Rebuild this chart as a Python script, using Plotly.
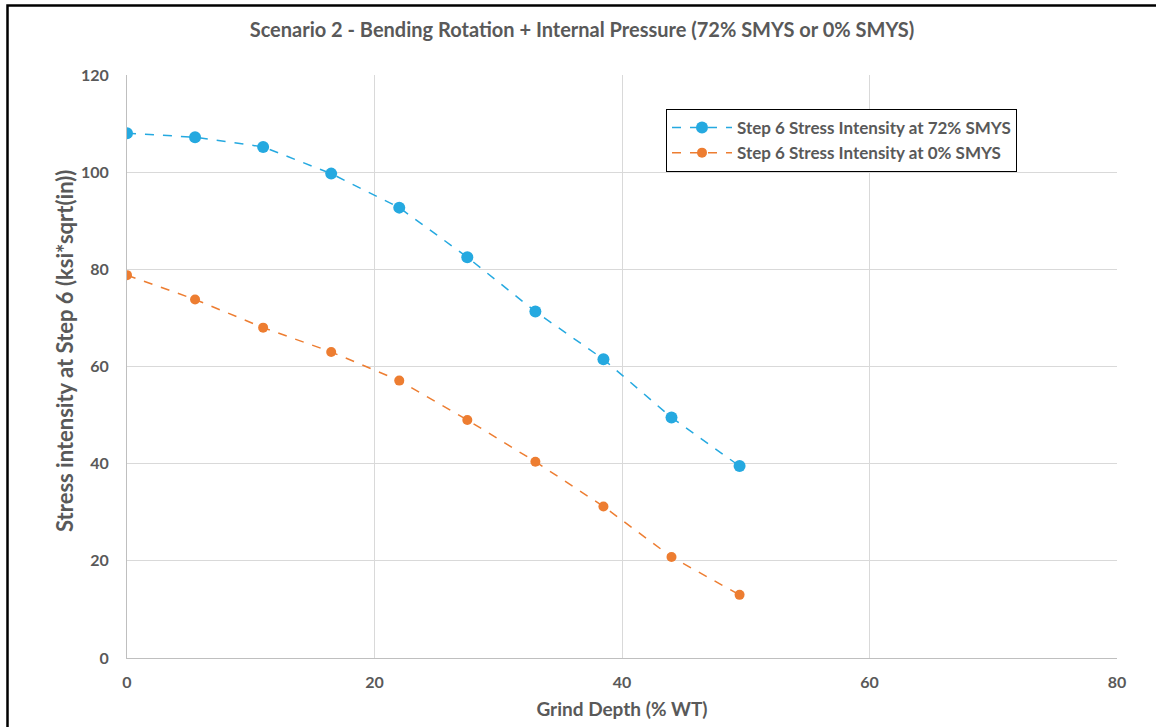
import plotly.graph_objects as go

grind_depth = [0, 5.5, 11, 16.5, 22, 27.5, 33, 38.5, 44, 49.5]
si_72 = [108.0, 107.2, 105.2, 99.7, 92.7, 82.5, 71.3, 61.5, 49.5, 39.5]
si_0 = [78.8, 73.8, 68.0, 63.0, 57.1, 49.0, 40.4, 31.2, 20.8, 13.0]
x_ticks = [0, 20, 40, 60, 80]
y_ticks = [0, 20, 40, 60, 80, 100, 120]

FONT = "Lato"
GRAY = "#595959"

fig = go.Figure()
fig.add_trace(go.Scatter(
    x=grind_depth, y=si_72, mode="lines+markers",
    name="<b>Step 6 Stress Intensity at 72% SMYS</b>",
    line=dict(color="#25a9e0", width=1.5, dash="dash"),
    marker=dict(symbol="circle", size=12, color="#25a9e0"),
))
fig.add_trace(go.Scatter(
    x=grind_depth, y=si_0, mode="lines+markers",
    name="<b>Step 6 Stress Intensity at 0% SMYS</b>",
    line=dict(color="#ed7d31", width=1.5, dash="dash"),
    marker=dict(symbol="circle", size=10, color="#ed7d31"),
))

L, R, T, B = 127, 39, 75, 69
W, H = 1156, 727
pw, ph = W - L - R, H - T - B

def px(x):
    return (x - L) / pw

def py(y):
    return (H - B - y) / ph

tickfont = dict(family=FONT, size=16, color=GRAY, weight="bold")

fig.update_layout(
    width=W, height=H,
    margin=dict(l=L, r=R, t=T, b=B, autoexpand=False),
    paper_bgcolor="white", plot_bgcolor="white",
    font=dict(family=FONT, color=GRAY, size=14),
    title=dict(text="<b>Scenario 2 - Bending Rotation + Internal Pressure (72% SMYS or 0% SMYS)</b>",
               x=582 / W, xanchor="center", y=1 - 30 / H, yanchor="middle",
               font=dict(family=FONT, size=20, color=GRAY)),
    xaxis=dict(range=[0, 80], tickvals=x_ticks, showgrid=True, gridcolor="#d9d9d9",
               gridwidth=1, showline=True, linecolor="#bfbfbf", zeroline=False,
               ticks="", ticklabelstandoff=10, tickfont=tickfont, automargin=False,
               title=dict(text="<b>Grind Depth (% WT)</b>", font=dict(family=FONT, size=19, color=GRAY),
                          standoff=12)),
    yaxis=dict(range=[0, 120], tickvals=y_ticks, showgrid=True, gridcolor="#d9d9d9",
               gridwidth=1, showline=True, linecolor="#bfbfbf", zeroline=False,
               ticks="", ticklabelstandoff=14, tickfont=tickfont, automargin=False),
    legend=dict(x=px(666), y=py(109), xanchor="left", yanchor="top",
                bgcolor="white", bordercolor="black", borderwidth=1,
                font=dict(family=FONT, size=17, color=GRAY),
                itemwidth=60, tracegroupgap=2),
    showlegend=True,
)

# y-axis title placed as in the reference (slightly above plot centre)
fig.add_annotation(text="<b>Stress intensity at Step 6 (ksi*sqrt(in))</b>",
                   xref="paper", yref="paper", x=px(64), y=py(351),
                   xanchor="center", yanchor="middle", textangle=-90, showarrow=False,
                   font=dict(family=FONT, size=22, color=GRAY))

# outer frame (black top/left) as in reference
fig.add_shape(type="rect", xref="paper", yref="paper",
              x0=px(7.5), y0=py(740), x1=px(1170), y1=py(5.5),
              line=dict(color="black", width=2.5), fillcolor="rgba(0,0,0,0)", layer="below")

fig.write_html("out.html")
